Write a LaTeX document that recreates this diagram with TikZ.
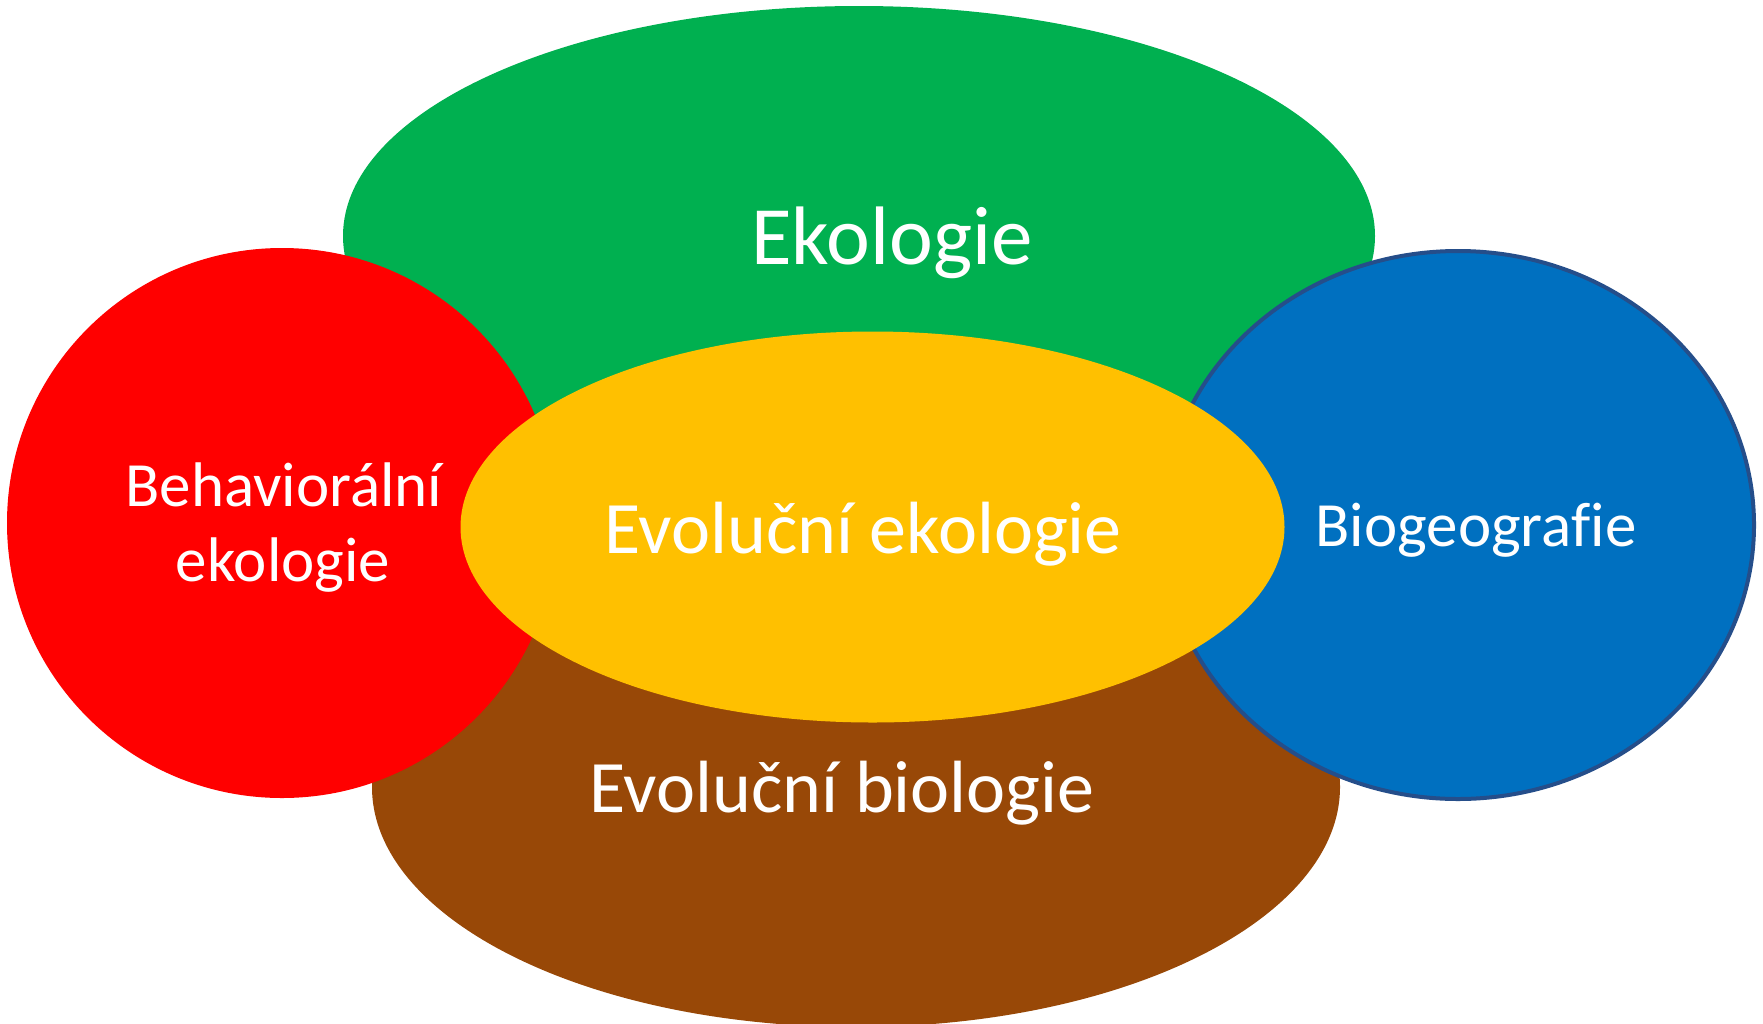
\documentclass[tikz,border=0pt]{standalone}
\usepackage{fontspec}
\setmainfont[Ligatures=NoCommon]{Carlito}
\definecolor{cgreen}{HTML}{00B050}
\definecolor{cred}{HTML}{FF0000}
\definecolor{cyellow}{HTML}{FFC000}
\definecolor{cbrown}{HTML}{984807}
\definecolor{cblue}{HTML}{0070C0}
\definecolor{cblueedge}{HTML}{254E8A}
\begin{document}
\begin{tikzpicture}[x=1pt,y=-1pt,
  lbl/.style={anchor=base,text=white,inner sep=0pt,align=center},
  big/.style={lbl,font=\fontsize{83}{90}\selectfont},
  mid/.style={lbl,font=\fontsize{74}{80}\selectfont},
  small/.style={lbl,font=\fontsize{63}{75}\selectfont}]
\useasboundingbox (0,0) rectangle (1763,1023);
\clip (0,0) rectangle (1763,1023);
\fill[cgreen] (859,236) ellipse [x radius=516, y radius=230];
\fill[cbrown] (856,787) ellipse [x radius=484, y radius=240];
\fill[cred] (282,523) circle [radius=275];
\filldraw[fill=cblue,draw=cblueedge,line width=4pt] (1458,525) ellipse [x radius=296, y radius=274];
\fill[cyellow] (872.5,527) ellipse [x radius=412, y radius=195.5];
\node[big] (eko) at (892,264) {Ekologie};
\node[mid] (evoeko) at (863,553) {Evoluční ekologie};
\node[mid] (evobio) at (842,812) {Evoluční biologie};
\node[small] (bio) at (1476,546) {Biogeografie};
\node[small] (beh1) at (284,506) {Behaviorální};
\node[small] (beh2) at (283,581) {ekologie};
\end{tikzpicture}
\end{document}
